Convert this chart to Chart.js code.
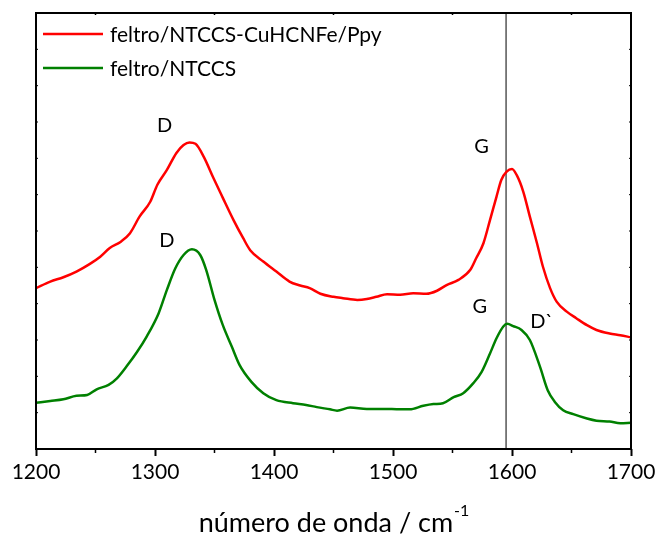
<html>
<head>
  <title>Raman</title>
  <script src="https://cdn.jsdelivr.net/npm/chart.js@4.4.1/dist/chart.umd.min.js"></script>
  <style>
    body { margin: 0; background: white; }
    #box { width: 660px; height: 543px; }
  </style>
</head>
<body>
  <div id="box"><canvas id="raman" width="660" height="543"></canvas></div>

  <script>
    // wavenumber (cm-1) and intensity (a.u.) of each spectrum
    var redX = [1200, 1212, 1223, 1234, 1245, 1254, 1262, 1271, 1279, 1287, 1296, 1302, 1310, 1318, 1324, 1329, 1334, 1341, 1349, 1357, 1366, 1374, 1380, 1391, 1402, 1413, 1422, 1430, 1439, 1450, 1458, 1470, 1478, 1486, 1495, 1506, 1517, 1528, 1537, 1545, 1555, 1565, 1570, 1576, 1581.5, 1587, 1591, 1595.5, 1600, 1604, 1609.5, 1615, 1621, 1626, 1632, 1637.5, 1646, 1654, 1663, 1671, 1682, 1691, 1700];
    var redY = [36.9, 38.4, 39.4, 40.7, 42.4, 44.1, 46.1, 47.5, 49.5, 53.3, 56.7, 60.6, 64.0, 67.9, 69.7, 70.3, 70.0, 67.0, 62.2, 57.6, 52.5, 48.4, 45.6, 43.0, 40.7, 38.4, 37.5, 36.9, 35.6, 34.9, 34.6, 34.2, 34.4, 34.9, 35.5, 35.4, 35.7, 35.6, 36.3, 37.6, 38.8, 41.1, 43.8, 47.2, 52.5, 57.9, 61.7, 63.6, 64.2, 62.8, 59.0, 53.3, 47.2, 41.8, 36.9, 33.8, 31.5, 30.0, 28.4, 27.3, 26.5, 26.1, 25.6];

    var greenX = [1200, 1212, 1223, 1234, 1243, 1251, 1261, 1268, 1276, 1285, 1293, 1303, 1310, 1317, 1324, 1331, 1338, 1343, 1350, 1357, 1364.5, 1371, 1381, 1391, 1402, 1416, 1427, 1436, 1447, 1453, 1464, 1478, 1492, 1506, 1514, 1525.5, 1534, 1542, 1551, 1559, 1567.5, 1574.5, 1581.5, 1587, 1592.7, 1596, 1601, 1608, 1615, 1623.5, 1630, 1636, 1643, 1651.5, 1663, 1671, 1682, 1691, 1700];
    var greenY = [10.6, 11.0, 11.4, 12.2, 12.4, 13.7, 14.7, 16.2, 18.9, 22.3, 25.8, 31.1, 36.5, 41.4, 44.5, 45.8, 44.5, 41.1, 34.2, 28.4, 23.5, 19.3, 15.4, 12.8, 11.2, 10.5, 10.1, 9.6, 9.1, 8.8, 9.5, 9.2, 9.2, 9.1, 9.1, 9.9, 10.3, 10.5, 11.9, 12.8, 15.1, 17.7, 21.9, 25.4, 28.1, 28.7, 28.2, 27.3, 25.0, 18.9, 13.5, 10.8, 8.9, 8.0, 7.0, 6.5, 6.3, 5.9, 6.0];

    var seriesNames = ["feltro/NTCCS-CuHCNFe/Ppy", "feltro/NTCCS"];
    var xTicks = [1200, 1300, 1400, 1500, 1600, 1700];
    var gBand = 1595; // reference line through the G band

    // band labels: text, wavenumber, intensity
    var bandText = ["D", "D", "G", "G", "D`"];
    var bandX = [1308, 1310, 1574.5, 1573, 1625];
    var bandY = [74.3, 47.9, 69.3, 32.6, 29.2];

    function pts(xs, ys) {
      return xs.map(function (x, i) { return { x: x, y: ys[i] }; });
    }

    var font = "Lato, 'Open Sans', sans-serif";

    // frame, minor ticks, legend, band labels and axis title
    var extras = {
      id: "extras",
      afterDraw: function (chart) {
        var c = chart.ctx, a = chart.chartArea;
        var xs = chart.scales.x, ys = chart.scales.y;
        c.save();
        c.strokeStyle = "#000";
        c.lineWidth = 2;
        c.strokeRect(a.left, a.top, a.right - a.left, a.bottom - a.top);

        // minor ticks every 50
        c.lineWidth = 1.5;
        for (var v = 1250; v < 1700; v += 100) {
          var px = xs.getPixelForValue(v);
          c.beginPath();
          c.moveTo(px, a.bottom); c.lineTo(px, a.bottom + 4);
          c.moveTo(px, a.top); c.lineTo(px, a.top + 2);
          c.stroke();
        }
        c.lineWidth = 1;
        for (var k = 1; k < 12; k++) {
          var py = a.top + k * (a.bottom - a.top) / 12;
          c.beginPath();
          c.moveTo(a.left, py); c.lineTo(a.left + 2, py);
          c.moveTo(a.right, py); c.lineTo(a.right - 2, py);
          c.stroke();
        }

        // legend
        c.font = "21px " + font;
        c.textBaseline = "middle";
        c.textAlign = "left";
        var ly = [34, 68];
        for (var i = 0; i < 2; i++) {
          c.strokeStyle = chart.data.datasets[i].borderColor;
          c.lineWidth = 2.5;
          c.beginPath();
          c.moveTo(43, ly[i]); c.lineTo(103, ly[i]);
          c.stroke();
          c.fillStyle = "#000";
          c.fillText(seriesNames[i], 110, ly[i] + 1);
        }

        // band labels
        c.font = "20px " + font;
        c.textAlign = "center";
        for (var j = 0; j < bandText.length; j++) {
          c.fillText(bandText[j], xs.getPixelForValue(bandX[j]), ys.getPixelForValue(bandY[j]));
        }

        // axis title with superscript
        var t1 = "número de onda / cm", t2 = "-1";
        c.font = "27px " + font;
        var w1 = c.measureText(t1).width;
        c.font = "16px " + font;
        var w2 = c.measureText(t2).width;
        var x0 = (a.left + a.right) / 2 - (w1 + w2) / 2;
        c.textAlign = "left";
        c.textBaseline = "alphabetic";
        c.font = "27px " + font;
        c.fillText(t1, x0, 532);
        c.font = "16px " + font;
        c.fillText(t2, x0 + w1 + 1, 516);
        c.restore();
      }
    };

    new Chart(document.getElementById("raman"), {
      type: "line",
      data: {
        datasets: [
          { label: seriesNames[0], data: pts(redX, redY), borderColor: "#ff0000", borderWidth: 2.5, pointRadius: 0, cubicInterpolationMode: "monotone" },
          { label: seriesNames[1], data: pts(greenX, greenY), borderColor: "#008000", borderWidth: 2.5, pointRadius: 0, cubicInterpolationMode: "monotone" },
          { label: "G", data: [{ x: gBand, y: 0 }, { x: gBand, y: 100 }], borderColor: "#000", borderWidth: 1, pointRadius: 0 }
        ]
      },
      options: {
        responsive: false,
        animation: false,
        devicePixelRatio: 1,
        layout: { padding: { left: 36, right: 29, top: 13, bottom: 0 } },
        plugins: { legend: { display: false }, tooltip: { enabled: false } },
        scales: {
          x: {
            type: "linear", min: 1200, max: 1700,
            afterBuildTicks: function (s) { s.ticks = xTicks.map(function (v) { return { value: v }; }); },
            afterFit: function (s) { s.height = 94; },
            border: { display: false },
            grid: { drawOnChartArea: false, drawTicks: true, tickLength: 7, tickWidth: 2, tickColor: "#000" },
            ticks: {
              color: "#000", font: { family: font, size: 21 }, padding: 4, maxRotation: 0,
              callback: function (v) { return String(v); }
            }
          },
          y: { display: false, min: 0, max: 100 }
        }
      },
      plugins: [extras]
    });
  </script>
</body>
</html>
